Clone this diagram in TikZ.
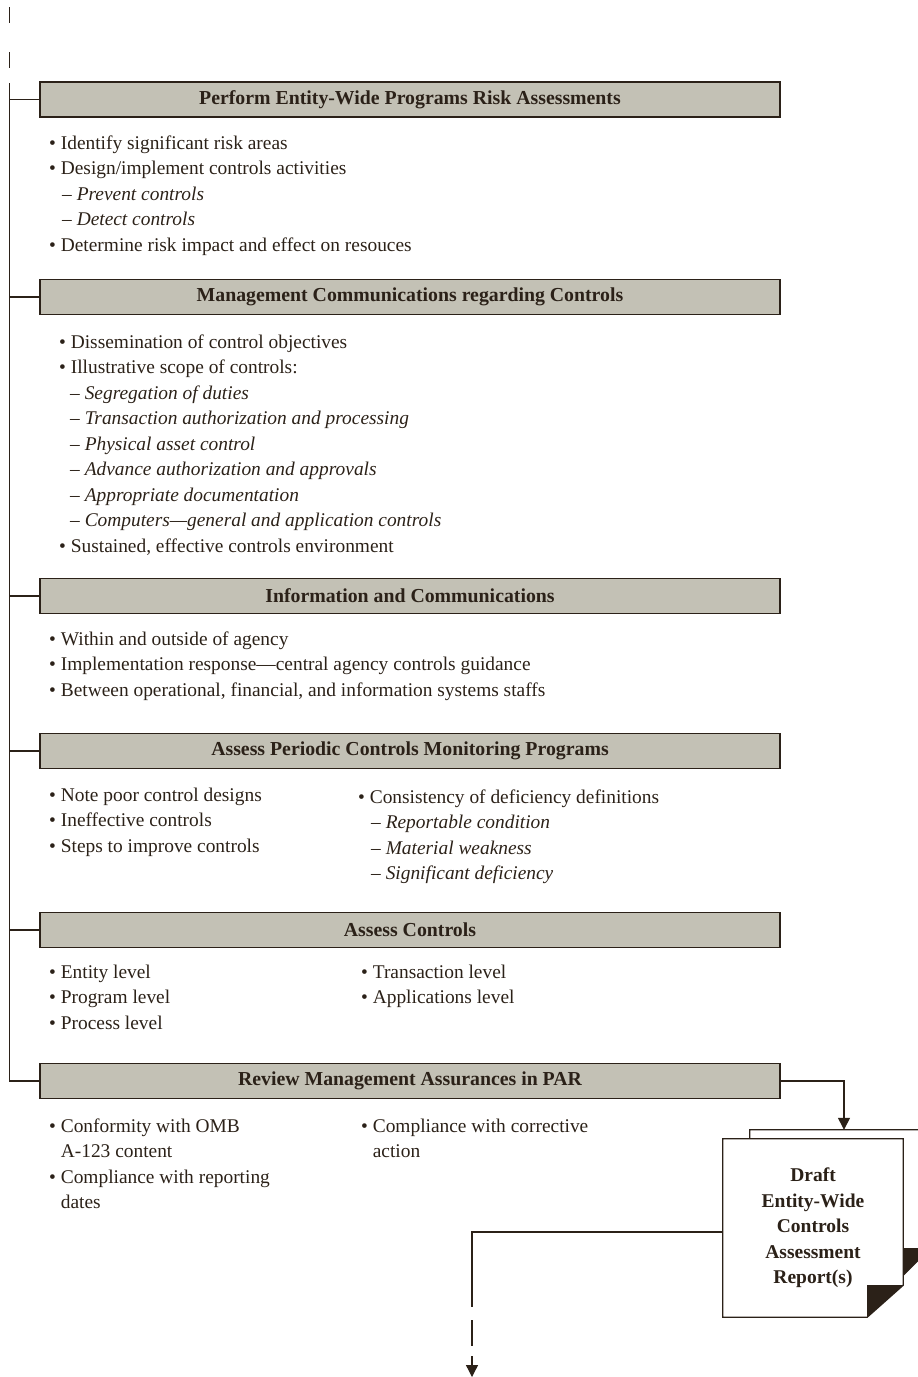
\documentclass[tikz,border=0pt]{standalone}
\usepackage{fontspec}
\setmainfont{Liberation Serif}
\usetikzlibrary{arrows.meta,backgrounds}
\definecolor{ink}{HTML}{2B2118}
\definecolor{barfill}{HTML}{C3C1B5}
\newcommand\subdash[1]{\hspace*{#1}–\ }
\begin{document}
\begin{tikzpicture}[x=1pt,y=-1pt,
  every node/.style={text=ink},
  bar/.style={draw=ink, line width=1.8pt, fill=barfill, minimum width=740pt,
    minimum height=35pt, inner sep=0pt, font=\fontsize{19.8}{22}\selectfont\bfseries},
  % anchored at the baseline of the last line of each block
  body/.style={anchor=base west, align=left, inner sep=0pt,
    font=\fontsize{19.4}{25.5}\selectfont},
  link/.style={draw=ink, line width=1.3pt},
  tip/.style={-{Triangle[length=12pt,width=12pt]}},
  page/.style={draw=ink, line width=1.3pt, fill=white},
]
\useasboundingbox (0,0) rectangle (918,1377);

% section headers
\node[bar] (b1) at (410,99.5) {Perform Entity-Wide Programs Risk Assessments};
\node[bar] (b2) at (410,297) {Management Communications regarding Controls};
\node[bar] (b3) at (410,596) {Information and Communications};
\node[bar] (b4) at (410,751) {Assess Periodic Controls Monitoring Programs};
\node[bar] (b5) at (410,930) {Assess Controls};
\node[bar] (b6) at (410,1081) {Review Management Assurances in PAR};

% section contents
\node[body] (t1) at (49,251) {• Identify significant risk areas\\
  • Design/implement controls activities\\
  \subdash{13pt}\textit{Prevent controls}\\
  \subdash{13pt}\textit{Detect controls}\\
  • Determine risk impact and effect on resouces};

\node[body] (t2) at (59,552) {• Dissemination of control objectives\\
  • Illustrative scope of controls:\\
  \subdash{11pt}\textit{Segregation of duties}\\
  \subdash{11pt}\textit{Transaction authorization and processing}\\
  \subdash{11pt}\textit{Physical asset control}\\
  \subdash{11pt}\textit{Advance authorization and approvals}\\
  \subdash{11pt}\textit{Appropriate documentation}\\
  \subdash{11pt}\textit{Computers—general and application controls}\\
  • Sustained, effective controls environment};

\node[body] (t3) at (49,696) {• Within and outside of agency\\
  • Implementation response—central agency controls guidance\\
  • Between operational, financial, and information systems staffs};

\node[body] (t4a) at (49,852) {• Note poor control designs\\
  • Ineffective controls\\
  • Steps to improve controls};
\node[body] (t4b) at (358,879.5) {• Consistency of deficiency definitions\\
  \subdash{13pt}\textit{Reportable condition}\\
  \subdash{13pt}\textit{Material weakness}\\
  \subdash{13pt}\textit{Significant deficiency}};

\node[body] (t5a) at (49,1029) {• Entity level\\ • Program level\\ • Process level};
\node[body] (t5b) at (361,1003.5) {• Transaction level\\ • Applications level};

\node[body] (t6a) at (49,1208.5) {• Conformity with OMB\\
  \phantom{• }A-123 content\\
  • Compliance with reporting\\
  \phantom{• }dates};
\node[body] (t6b) at (361,1157.5) {• Compliance with corrective\\
  \phantom{• }action};

% report pages
\node[minimum width=180pt, minimum height=145pt, inner sep=0pt] (back) at (840,1202.5) {};
\node[minimum width=180pt, minimum height=178pt, inner sep=0pt, align=center,
  font=\fontsize{19.5}{25.5}\selectfont\bfseries] (doc) at (813,1228)
  {Draft\\ Entity-Wide\\ Controls\\ Assessment\\ Report(s)};
\begin{scope}[on background layer]
  \draw[page] (back.north west) -- (back.north east) -- ([yshift=27pt]back.south east)
    -- ([xshift=-27pt]back.south east) -- (back.south west) -- cycle;
  \fill[ink] ([xshift=-27pt,yshift=27pt]back.south east) -- ([yshift=27pt]back.south east)
    -- ([xshift=-27pt]back.south east) -- cycle;
  \draw[page] (doc.north west) -- (doc.north east) -- ([yshift=32pt]doc.south east)
    -- ([xshift=-36pt]doc.south east) -- (doc.south west) -- cycle;
  \fill[ink] ([xshift=-36pt,yshift=32pt]doc.south east) -- ([yshift=32pt]doc.south east)
    -- ([xshift=-36pt]doc.south east) -- cycle;
\end{scope}

% spine and branches
\coordinate (spinetop) at (9.5,7);
\draw[link, dash pattern=on 16pt off 29pt on 16pt off 15pt on 1300pt]
  (spinetop) |- (b6.west);
\foreach \b in {b1,b2,b3,b4,b5}
  \draw[link] (\b.west) -- (\b.west -| spinetop);

% flow to and from the report
\draw[link, tip] (b6.east) -| ([xshift=4pt]back.north);
\coordinate (out) at (472,1377);
\draw[link, tip, dash pattern=on 326pt off 13pt on 26pt off 10pt on 60pt]
  ([yshift=-4pt]doc.west) -| (out);
\end{tikzpicture}
\end{document}
